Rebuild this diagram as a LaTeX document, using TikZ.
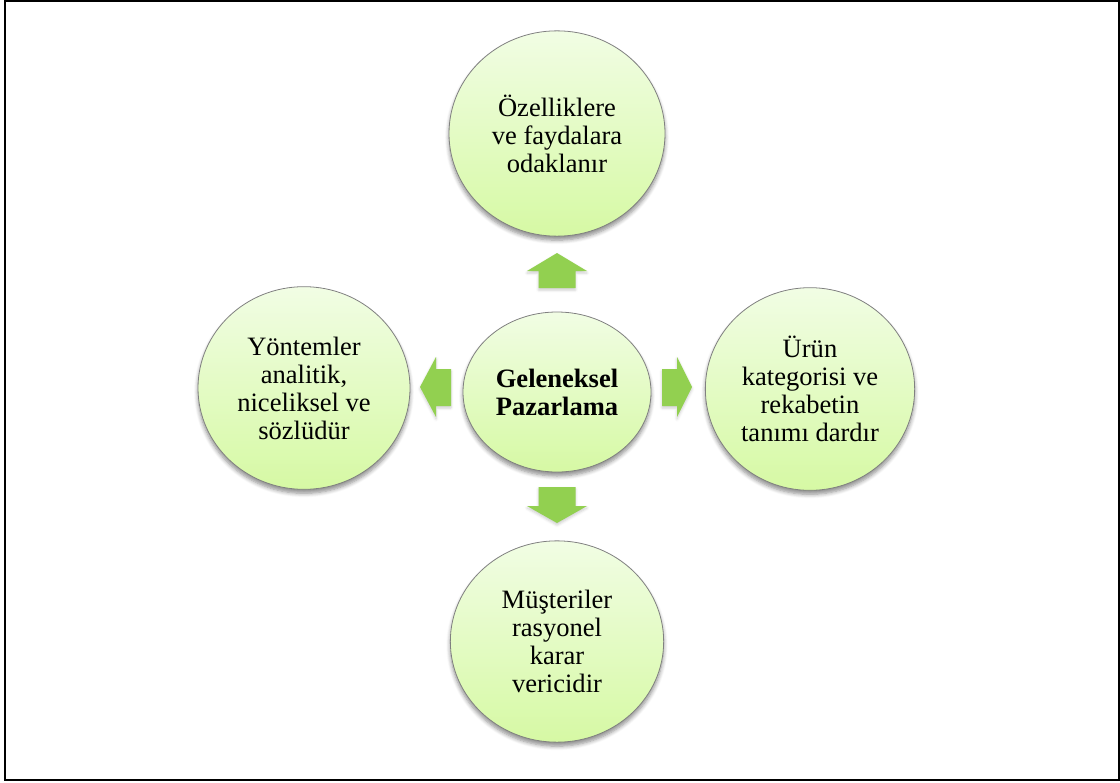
\documentclass[tikz,border=0pt]{standalone}
\usepackage{fontspec}
\setmainfont{Liberation Serif}
\usetikzlibrary{shapes.geometric,shadows.blur}
\definecolor{ringline}{RGB}{128,128,128}
\definecolor{fillTop}{RGB}{241,253,228}
\definecolor{fillBot}{RGB}{214,249,164}
\definecolor{arrowgreen}{RGB}{146,208,80}
\tikzset{
  bubble/.style={ellipse, draw=ringline, line width=0.6pt, inner sep=0pt,
    top color=fillTop, bottom color=fillBot, align=center,
    font=\fontsize{19.9}{21}\selectfont,
    blur shadow={shadow xshift=0pt, shadow yshift=-3pt, shadow blur radius=3pt,
      shadow blur steps=6, shadow opacity=45}},
  blockarrow/.style={fill=arrowgreen, draw=none,
    blur shadow={shadow xshift=0pt, shadow yshift=-1.5pt, shadow blur radius=2pt,
      shadow blur steps=4, shadow opacity=20}},
  frame/.style={draw=black, line width=1.6pt}
}
\begin{document}
\begin{tikzpicture}[x=0.75pt, y=-0.75pt]
\useasboundingbox (0,0) rectangle (1120,782);
\draw[frame] (5,1.2) rectangle (1118.6,780.4);

% central idea and the four statements around it
\node[bubble, minimum width=141pt, minimum height=120pt,
      font=\fontsize{19.9}{21}\selectfont\bfseries] (core) at (557,392) {Geleneksel\\Pazarlama};
\node[bubble, minimum width=162pt, minimum height=154pt] (top) at (557,133.5)
  {Özelliklere\\ve faydalara\\odaklanır};
\node[bubble, minimum width=159pt, minimum height=152pt] (left) at (304,388)
  {Yöntemler\\analitik,\\niceliksel ve\\sözlüdür};
\node[bubble, minimum width=157pt, minimum height=152pt] (right) at (810,389)
  {Ürün\\kategorisi ve\\rekabetin\\tanımı dardır};
\node[bubble, minimum width=160pt, minimum height=151pt] (bottom) at (557,641.5)
  {Müşteriler\\rasyonel\\karar\\vericidir};

% block arrows pointing outwards from the centre
\fill[blockarrow] (538.5,288) -- (538.5,271) -- (527,271) -- (557,253)
  -- (587,271) -- (575.5,271) -- (575.5,288) -- cycle;
\fill[blockarrow] (538.5,487) -- (538.5,506) -- (527,506) -- (557,523)
  -- (587,506) -- (575.5,506) -- (575.5,487) -- cycle;
\fill[blockarrow] (451,369) -- (436,369) -- (436,357) -- (420,387)
  -- (436,417) -- (436,406) -- (451,406) -- cycle;
\fill[blockarrow] (662,369) -- (677,369) -- (677,357) -- (692,387)
  -- (677,417) -- (677,406) -- (662,406) -- cycle;
\end{tikzpicture}
\end{document}
